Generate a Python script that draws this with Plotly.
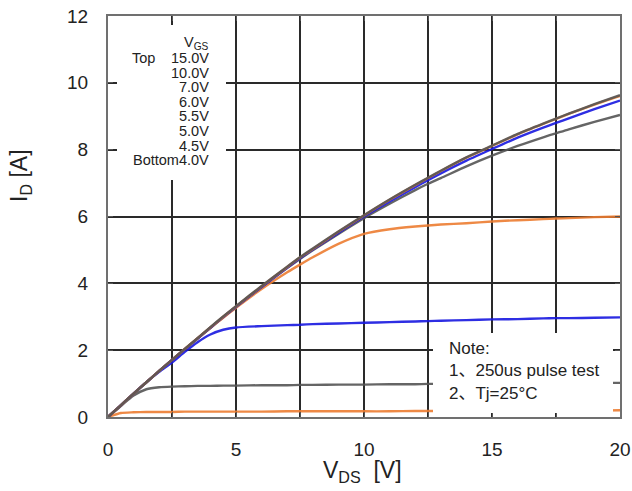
import plotly.graph_objects as go

# ---------------- data ----------------
vds = [0, 0.5, 1, 1.5, 2, 2.5, 3, 3.5, 4, 4.5, 5, 6, 7, 7.5, 8, 9, 10, 11, 12, 12.5, 13, 14, 15, 16, 17, 17.5, 18, 19, 20]

id_15v = [0, 0.35, 0.70, 1.04, 1.38, 1.71, 2.04, 2.36, 2.69, 3.01, 3.32, 3.92, 4.50, 4.78, 5.04, 5.55, 6.04, 6.51, 6.95, 7.16, 7.37, 7.77, 8.12, 8.47, 8.78, 8.93, 9.08, 9.36, 9.63]
id_10v = [0, 0.35, 0.70, 1.04, 1.38, 1.71, 2.04, 2.36, 2.68, 3.00, 3.31, 3.91, 4.49, 4.77, 5.03, 5.54, 6.03, 6.50, 6.94, 7.15, 7.36, 7.76, 8.11, 8.46, 8.77, 8.92, 9.07, 9.35, 9.61]
id_7v = [0, 0.35, 0.70, 1.04, 1.38, 1.71, 2.03, 2.35, 2.67, 2.99, 3.30, 3.89, 4.47, 4.75, 5.01, 5.51, 6.00, 6.45, 6.88, 7.09, 7.29, 7.67, 8.02, 8.36, 8.66, 8.80, 8.94, 9.21, 9.47]
id_6v = [0, 0.35, 0.70, 1.04, 1.38, 1.71, 2.03, 2.35, 2.67, 2.99, 3.30, 3.89, 4.46, 4.73, 4.99, 5.48, 5.95, 6.38, 6.79, 6.98, 7.15, 7.50, 7.82, 8.11, 8.37, 8.49, 8.61, 8.83, 9.04]
id_5v5 = [0, 0.35, 0.70, 1.04, 1.38, 1.71, 2.03, 2.35, 2.66, 2.97, 3.27, 3.83, 4.33, 4.56, 4.78, 5.18, 5.48, 5.62, 5.70, 5.73, 5.76, 5.80, 5.85, 5.89, 5.92, 5.94, 5.95, 5.98, 6.00]
id_5v = [0, 0.35, 0.70, 1.04, 1.35, 1.63, 1.95, 2.24, 2.47, 2.61, 2.68, 2.72, 2.75, 2.76, 2.78, 2.80, 2.82, 2.84, 2.86, 2.87, 2.88, 2.90, 2.92, 2.93, 2.95, 2.96, 2.96, 2.97, 2.98]
id_4v5 = [0, 0.33, 0.64, 0.83, 0.89, 0.91, 0.92, 0.93, 0.93, 0.94, 0.94, 0.95, 0.95, 0.96, 0.96, 0.97, 0.97, 0.98, 0.98, 0.99, 0.99, 1.00, 1.00, 1.01, 1.01, 1.01, 1.02, 1.02, 1.02]
id_4v = [0, 0.12, 0.14, 0.15, 0.15, 0.15, 0.16, 0.16, 0.16, 0.16, 0.16, 0.16, 0.17, 0.17, 0.17, 0.17, 0.17, 0.17, 0.18, 0.18, 0.18, 0.18, 0.18, 0.19, 0.19, 0.19, 0.19, 0.19, 0.20]

vgs_labels = ["15.0V", "10.0V", "7.0V", "6.0V", "5.5V", "5.0V", "4.5V", "4.0V"]
x_ticks = [0, 5, 10, 15, 20]
y_ticks = [0, 2, 4, 6, 8, 10, 12]
note_lines = ["Note:", "1、250us pulse test", "2、Tj=25°C"]

GRAY = "#555555"
ORANGE = "#ED7D31"
BLUE = "#1818E0"

series = [
    (id_4v, ORANGE), (id_4v5, GRAY), (id_5v, BLUE), (id_5v5, ORANGE),
    (id_6v, GRAY), (id_7v, BLUE), (id_10v, ORANGE), (id_15v, GRAY),
]

FONT = "Arial, 'Liberation Sans', 'Noto Sans CJK SC', sans-serif"

fig = go.Figure()
for ys, col in series:
    fig.add_trace(go.Scatter(x=vds, y=ys, mode="lines",
                             line=dict(color=col, width=2.4, shape="spline", smoothing=0.6),
                             opacity=0.9, showlegend=False, hoverinfo="skip"))

# plot area in pixels
L, R, T, B = 108, 620, 16, 417
W, H = 632, 491

def px(x):
    return (x - L) / (R - L)

def py(y):
    return (B - y) / (B - T)

# white boxes behind the legend text and the note
fig.add_shape(type="rect", xref="paper", yref="paper", x0=px(117), x1=px(226), y0=py(180), y1=py(25),
              fillcolor="white", line=dict(width=0), layer="above")
fig.add_shape(type="rect", xref="paper", yref="paper", x0=px(433), x1=px(613), y0=py(413), y1=py(333),
              fillcolor="white", line=dict(width=0), layer="above")

annotations = []
leg = [dict(text="V<sub>GS</sub>", x=px(211), y=py(43), xanchor="right"),
       dict(text="Top", x=px(130), y=py(58), xanchor="left")]
ys_leg = [58, 72.6, 87.2, 101.8, 116.4, 131, 145.6, 160.2]
for i, lab in enumerate(vgs_labels):
    t = ("Bottom" + lab) if i == len(vgs_labels) - 1 else lab
    leg.append(dict(text=t, x=px(211), y=py(ys_leg[i]), xanchor="right"))
for a in leg:
    a.update(xref="paper", yref="paper", yanchor="middle", showarrow=False,
             font=dict(family=FONT, size=14.5, color="#222222"))
    annotations.append(a)

for i, t in enumerate(note_lines):
    annotations.append(dict(text=t, x=px(447), y=py(348 + 22.5 * i), xref="paper", yref="paper", xanchor="left",
                            yanchor="middle", showarrow=False, font=dict(family=FONT, size=17, color="#222222")))

annotations.append(dict(text="V<sub>DS</sub>  [V]", x=px(362), y=py(471), xref="paper", yref="paper",
                        xanchor="center", yanchor="middle", showarrow=False,
                        font=dict(family=FONT, size=23, color="#222222")))
annotations.append(dict(text="I<sub>D</sub> [A]", x=px(20), y=py(176), xref="paper", yref="paper",
                        xanchor="center", yanchor="middle", showarrow=False, textangle=-90,
                        font=dict(family=FONT, size=23, color="#222222")))

fig.update_layout(
    width=W, height=H, margin=dict(l=L, r=W - R, t=T, b=H - B, autoexpand=False),
    paper_bgcolor="white", plot_bgcolor="white",
    annotations=annotations,
    font=dict(family=FONT, color="#222222"),
)
GRID = "#2a2a2a"
fig.update_xaxes(range=[0, 20], tickvals=x_ticks, showgrid=True, gridcolor=GRID, gridwidth=1.5,
                 minor=dict(dtick=2.5, tick0=0, showgrid=True, gridcolor=GRID, gridwidth=1.5,
                            ticks="inside", ticklen=5, tickcolor="#555555"),
                 showline=True, linecolor="#707070", linewidth=2, mirror="ticks", ticks="inside", ticklen=5,
                 tickcolor="#555555", tickfont=dict(size=19, family=FONT, color="#222222"), zeroline=False,
                 ticklabelstandoff=14, automargin=False)
fig.update_yaxes(range=[0, 12], tickvals=y_ticks, showgrid=True, gridcolor=GRID, gridwidth=1.5,
                 showline=True, linecolor="#707070", linewidth=2, mirror="ticks", ticks="inside", ticklen=5,
                 tickcolor="#555555", tickfont=dict(size=19, family=FONT, color="#222222"), zeroline=False,
                 ticklabelstandoff=14, automargin=False)

fig.write_html("out.html")
